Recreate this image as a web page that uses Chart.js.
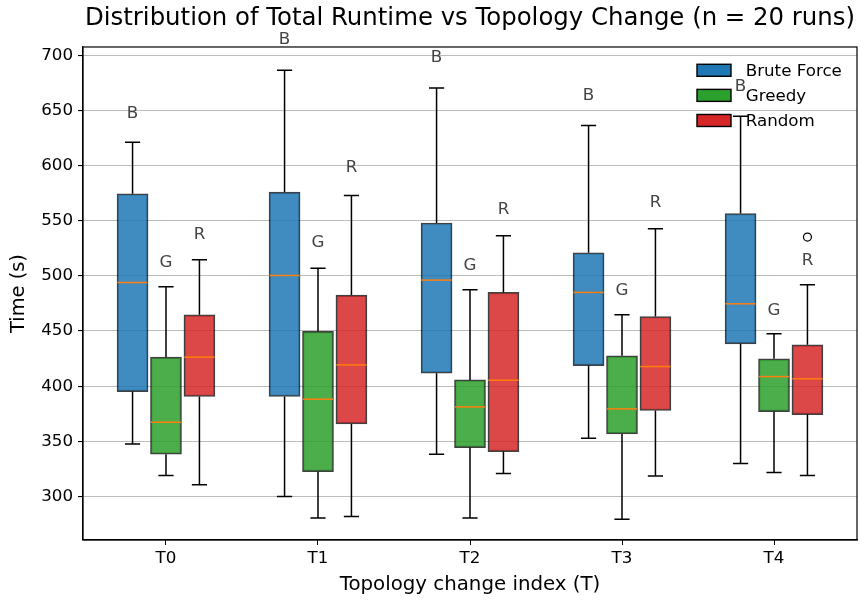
<!DOCTYPE html>
<html>
<head>
<meta charset="utf-8">
<script src="https://cdn.jsdelivr.net/npm/chart.js@4/dist/chart.umd.min.js"></script>
<style>
  html, body { margin: 0; padding: 0; background: #fff; }
</style>
</head>
<body>
<canvas id="runtime-chart" width="861" height="601"></canvas>
<script>
const topologies = ["T0", "T1", "T2", "T3", "T4"];
const yTickValues = [300, 350, 400, 450, 500, 550, 600, 650, 700];
const methodNames = ["Brute Force", "Greedy", "Random"];
const methodTags = ["B", "G", "R"];

// Brute Force box stats per topology
const bruteLow = [347.6, 300.0, 338.3, 352.8, 329.8];
const bruteQ1 = [395.1, 390.6, 411.8, 418.7, 438.4];
const bruteMedian = [494.0, 500.4, 496.2, 485.0, 474.7];
const bruteQ3 = [574.5, 576.0, 548.0, 521.0, 556.6];
const bruteHigh = [621.1, 686.4, 670.4, 636.5, 644.7];
const bruteOutliers = [[], [], [], [], []];

// Greedy
const greedyLow = [319.0, 280.5, 280.5, 279.3, 321.6];
const greedyQ1 = [338.3, 322.5, 344.3, 356.7, 376.9];
const greedyMedian = [367.3, 388.2, 381.2, 379.4, 408.7];
const greedyQ3 = [426.3, 449.7, 405.7, 427.5, 424.8];
const greedyHigh = [490.1, 507.0, 487.4, 464.7, 447.5];
const greedyOutliers = [[], [], [], [], []];

// Random
const randomLow = [310.7, 281.7, 320.7, 318.6, 318.9];
const randomQ1 = [390.6, 365.8, 340.7, 377.9, 374.2];
const randomMedian = [426.3, 419.3, 405.4, 417.8, 406.7];
const randomQ3 = [464.7, 482.6, 485.0, 463.2, 437.5];
const randomHigh = [514.6, 573.0, 536.4, 542.7, 491.9];
const randomOutliers = [[], [], [], [], [535.2]];

const groupOffsets = [-0.22, 0, 0.22];
const boxWidth = 0.2;
const fillColors = ["rgba(31, 119, 180, 0.85)", "rgba(44, 160, 44, 0.85)", "rgba(214, 39, 40, 0.85)"];
const legendColors = ["#1f77b4", "#2ca02c", "#d62728"];
const FONT = "DejaVu Sans";

const stats = [
  { low: bruteLow, q1: bruteQ1, med: bruteMedian, q3: bruteQ3, high: bruteHigh, out: bruteOutliers },
  { low: greedyLow, q1: greedyQ1, med: greedyMedian, q3: greedyQ3, high: greedyHigh, out: greedyOutliers },
  { low: randomLow, q1: randomQ1, med: randomMedian, q3: randomQ3, high: randomHigh, out: randomOutliers },
];

// whiskers, caps, medians, fliers, B/G/R tags, legend and the axes frame
const boxExtras = {
  id: "boxExtras",
  afterDatasetsDraw(chart) {
    const { ctx, chartArea } = chart;
    const xs = chart.scales.x;
    const ys = chart.scales.y;
    const py = (v) => ys.getPixelForValue(v);
    ctx.save();

    stats.forEach((s, m) => {
      topologies.forEach((t, i) => {
        const pos = i + groupOffsets[m];
        const cx = xs.getPixelForValue(pos);
        const halfBox = xs.getPixelForValue(pos + boxWidth / 2) - cx;
        const halfCap = halfBox / 2;

        ctx.strokeStyle = "#000";
        ctx.lineWidth = 1.5;
        ctx.beginPath();
        ctx.moveTo(cx, py(s.q1[i]));
        ctx.lineTo(cx, py(s.low[i]));
        ctx.moveTo(cx, py(s.q3[i]));
        ctx.lineTo(cx, py(s.high[i]));
        ctx.moveTo(cx - halfCap, py(s.low[i]));
        ctx.lineTo(cx + halfCap, py(s.low[i]));
        ctx.moveTo(cx - halfCap, py(s.high[i]));
        ctx.lineTo(cx + halfCap, py(s.high[i]));
        ctx.stroke();

        ctx.strokeStyle = "#ff7f0e";
        ctx.lineWidth = 1.5;
        ctx.beginPath();
        ctx.moveTo(cx - halfBox, py(s.med[i]));
        ctx.lineTo(cx + halfBox, py(s.med[i]));
        ctx.stroke();

        ctx.strokeStyle = "#000";
        ctx.lineWidth = 1.2;
        s.out[i].forEach((v) => {
          ctx.beginPath();
          ctx.arc(cx, py(v), 4, 0, Math.PI * 2);
          ctx.stroke();
        });

        ctx.fillStyle = "#444";
        ctx.font = `16.7px "${FONT}"`;
        ctx.textAlign = "center";
        ctx.textBaseline = "alphabetic";
        ctx.fillText(methodTags[m], cx, py(s.high[i] * 1.03) - 4);
      });
    });

    // legend (no frame), upper right inside the axes
    ctx.font = `16.7px "${FONT}"`;
    ctx.textAlign = "left";
    ctx.textBaseline = "middle";
    methodNames.forEach((name, m) => {
      const rowY = chartArea.top + 23.3 + 25.1 * m;
      const px = chartArea.right - 160;
      ctx.fillStyle = legendColors[m];
      ctx.fillRect(px, rowY - 6, 34, 12);
      ctx.strokeStyle = "#000";
      ctx.lineWidth = 1.4;
      ctx.strokeRect(px, rowY - 6, 34, 12);
      ctx.fillStyle = "#000";
      ctx.fillText(name, chartArea.right - 111.3, rowY + 1);
    });

    // full frame round the plot area
    ctx.strokeStyle = "#000";
    ctx.lineWidth = 1.2;
    ctx.strokeRect(chartArea.left, chartArea.top, chartArea.right - chartArea.left, chartArea.bottom - chartArea.top);

    ctx.restore();
  },
};

const datasets = methodNames.map((name, m) => ({
  label: name,
  data: topologies.map((t, i) => ({ x: i + groupOffsets[m], y: [stats[m].q1[i], stats[m].q3[i]] })),
  backgroundColor: fillColors[m],
  borderColor: "rgba(0, 0, 0, 0.75)",
  borderWidth: 1.5,
  borderSkipped: false,
  barThickness: 31,
  grouped: false,
}));

const ctx = document.getElementById("runtime-chart").getContext("2d");
new Chart(ctx, {
  type: "bar",
  data: { datasets },
  options: {
    responsive: false,
    animation: false,
    events: [],
    layout: { padding: { top: 0, right: 4, left: 0, bottom: 0 } },
    plugins: {
      legend: { display: false },
      tooltip: { enabled: false },
      title: {
        display: true,
        text: "Distribution of Total Runtime vs Topology Change (n = 20 runs)",
        fullSize: false,
        color: "#000",
        font: { family: FONT, size: 24.4, weight: "normal", lineHeight: 1.2 },
        padding: { top: 4.4, bottom: 13.3 },
      },
    },
    scales: {
      x: {
        type: "linear",
        min: -0.546,
        max: 4.546,
        offset: false,
        afterBuildTicks: (scale) => {
          scale.ticks = topologies.map((t, i) => ({ value: i }));
        },
        afterFit: (scale) => {
          scale.height = 61;
        },
        ticks: {
          color: "#000",
          font: { family: FONT, size: 16.7 },
          padding: 4,
          maxRotation: 0,
          callback: (v) => topologies[v],
        },
        grid: { drawOnChartArea: false, drawTicks: true, tickLength: 5, color: "#000", tickColor: "#000", offset: false },
        border: { display: true, color: "#000", width: 1.2 },
        title: {
          display: true,
          text: "Topology change index (T)",
          color: "#000",
          font: { family: FONT, size: 19.8 },
          padding: { top: 0, bottom: 4.1 },
        },
      },
      y: {
        min: 260.5,
        max: 707.6,
        beginAtZero: false,
        afterBuildTicks: (scale) => {
          scale.ticks = yTickValues.map((v) => ({ value: v }));
        },
        afterFit: (scale) => {
          scale.width = 83;
        },
        ticks: {
          color: "#000",
          font: { family: FONT, size: 16.7 },
          padding: 5,
        },
        grid: { color: "rgba(176, 176, 176, 0.85)", lineWidth: 1.1, tickColor: "#000", tickLength: 5 },
        border: { display: true, color: "#000", width: 1.2 },
        title: {
          display: true,
          text: "Time (s)",
          color: "#000",
          font: { family: FONT, size: 19.4 },
          padding: { top: 7.3, bottom: 0 },
        },
      },
    },
  },
  plugins: [boxExtras],
});
</script>
</body>
</html>
